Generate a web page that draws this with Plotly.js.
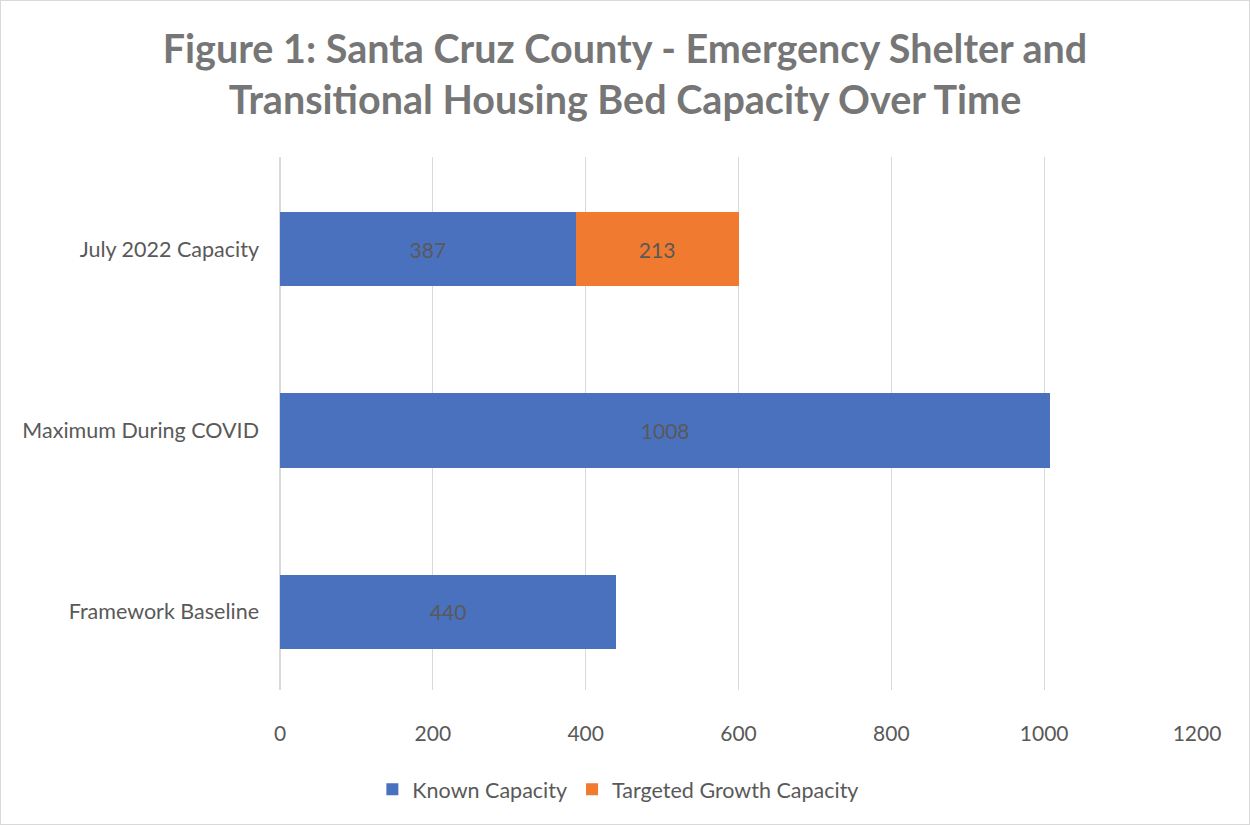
<!DOCTYPE html>
<html>
<head>
<meta charset="utf-8">
<script src="https://cdn.plot.ly/plotly-3.0.1.min.js"></script>
<style>
  html, body { margin: 0; padding: 0; background: #ffffff; }
  #chart { width: 1248px; height: 823px; border: 1px solid #d9d9d9; }
</style>
</head>
<body>
<div id="chart"></div>
<script>
const categories = ["Framework Baseline", "Maximum During COVID", "July 2022 Capacity"];
const knownCapacity = [440, 1008, 387];
const targetedGrowth = [null, null, 213];
const xTicks = [0, 200, 400, 600, 800, 1000, 1200];

const FONT = "Lato, 'Open Sans', sans-serif";
const GREY = "#595959";

const traces = [
  {
    type: "bar", orientation: "h", name: "Known Capacity",
    y: categories, x: knownCapacity,
    text: knownCapacity.map(v => v == null ? "" : String(v)),
    textposition: "inside", insidetextanchor: "middle", textangle: 0,
    textfont: { family: FONT, size: 21, color: GREY },
    marker: { color: "#4a71be" },
    hoverinfo: "none"
  },
  {
    type: "bar", orientation: "h", name: "Targeted Growth Capacity",
    y: categories, x: targetedGrowth,
    text: targetedGrowth.map(v => v == null ? "" : String(v)),
    textposition: "inside", insidetextanchor: "middle", textangle: 0,
    textfont: { family: FONT, size: 21, color: GREY },
    marker: { color: "#ef7a30" },
    hoverinfo: "none"
  }
];

const layout = {
  width: 1248, height: 823,
  barmode: "stack",
  bargap: 0.592,
  paper_bgcolor: "#ffffff", plot_bgcolor: "#ffffff",
  margin: { l: 279, r: 52, t: 156, b: 134, autoexpand: false },
  font: { family: FONT, color: GREY },
  title: {
    text: "Figure 1: Santa Cruz County - Emergency Shelter and<br>Transitional Housing Bed Capacity Over Time",
    font: { family: FONT, size: 39.5, color: "#767676", weight: "bold" },
    x: 0.5, xanchor: "center", y: 0.925, yanchor: "top"
  },
  xaxis: {
    range: [0, 1200], tickvals: xTicks, ticktext: xTicks.map(String),
    showgrid: true, gridcolor: "#d9d9d9", gridwidth: 1.3,
    zeroline: true, zerolinecolor: "#d9d9d9", zerolinewidth: 1.3,
    showline: false, ticks: "", tickangle: 0,
    tickfont: { family: FONT, size: 21, color: GREY },
    ticklabelstandoff: 29, fixedrange: true
  },
  yaxis: {
    range: [-0.430, 2.507],
    showgrid: false, showline: false, ticks: "", zeroline: false,
    tickfont: { family: FONT, size: 21.5, color: GREY },
    ticklabelstandoff: 20, fixedrange: true
  },
  legend: {
    orientation: "h", x: 0.369, xanchor: "center",
    y: -0.148, yanchor: "top",
    font: { family: FONT, size: 21.5, color: GREY },
    traceorder: "normal", itemwidth: 30
  },
  showlegend: true,
  hovermode: false
};

Plotly.newPlot("chart", traces, layout, { displayModeBar: false, staticPlot: true });
</script>
</body>
</html>
